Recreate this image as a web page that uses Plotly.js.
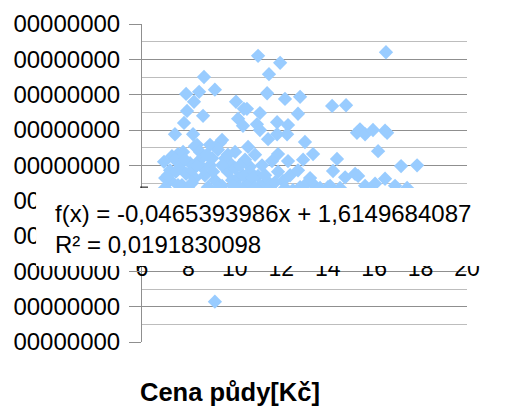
<!DOCTYPE html>
<html>
<head>
<meta charset="utf-8">
<script src="https://cdn.plot.ly/plotly-3.0.1.min.js"></script>
<style>html,body{margin:0;padding:0;background:#fff;}#chart{width:507px;height:409px;}</style>
</head>
<body>
<div id="chart"></div>
<script>
// Cena půdy [Kč] (x) and the y values
const cenaPudy = [
  8.67, 8.46, 9.14, 7.90, 8.24, 7.94, 8.63, 7.81, 7.42, 10.05,
  10.39, 10.14, 10.35, 8.20, 9.45, 8.93, 8.28, 7.55, 7.29, 7.77,
  11.00, 11.95, 11.47, 11.39, 12.16, 12.81, 14.19, 14.79, 11.08, 10.52,
  12.72, 11.82, 12.29, 10.95, 11.08, 11.43, 11.82, 12.25, 15.26, 13.02,
  10.57, 13.37, 12.94, 11.86, 11.60, 12.29, 14.40, 14.23, 10.65, 14.75,
  15.18, 13.11, 11.39, 11.86, 12.07, 11.00, 14.10, 16.51, 15.39, 15.61,
  15.95, 16.47, 16.56, 16.17, 17.16, 17.85, 15.31, 16.47, 16.04, 15.61,
  17.42, 12.50, 14.01, 9.36, 8.37, 9.14,
  7.21, 7.64, 8.07, 8.50, 8.93, 9.58, 10.01, 10.44, 10.87, 11.17,
  7.21, 7.72, 8.28, 8.71, 9.14, 9.70, 10.14, 10.57, 11.08, 11.51,
  6.99, 7.98, 8.84, 9.45, 10.22, 12.16, 12.81, 13.45, 9.79, 9.27,
  8.50, 9.02, 7.90, 10.65, 10.01, 7.42, 12.38, 12.72, 7.00, 6.95,
  7.42, 8.50, 9.58, 10.65, 11.73, 13.67, 14.96, 16.90,
  7.12, 7.46, 8.15, 8.63, 9.06, 9.45, 9.88, 10.35, 10.78, 11.30,
  7.85, 8.37, 8.80, 10.22, 9.70, 7.55, 8.15, 9.27, 9.92, 10.87,
  11.73, 13.24, 13.67, 14.53, 15.82, 16.90
];
const hodnoty = [
  2.75, 2.54, 2.57, 2.51, 2.40, 2.27, 2.20, 2.10, 1.94, 2.40,
  2.30, 2.16, 2.06, 1.94, 1.86, 1.79, 1.77, 1.66, 1.63, 1.69,
  3.05, 2.95, 2.79, 2.52, 2.44, 2.47, 2.34, 2.35, 2.24, 2.30,
  2.23, 2.11, 2.07, 2.08, 2.00, 1.87, 1.94, 1.94, 1.96, 1.83,
  1.76, 1.66, 1.58, 1.66, 1.56, 1.56, 1.59, 1.42, 1.48, 1.33,
  1.38, 1.25, 1.28, 1.41, 1.28, 1.35, 1.21, 3.10, 2.01, 1.94,
  2.00, 1.99, 1.96, 1.70, 1.49, 1.50, 1.35, 1.31, 1.24, 1.21,
  1.18, 1.15, 1.19, 1.82, 1.79, -0.43,
  1.43, 1.46, 1.53, 1.58, 1.50, 1.60, 1.69, 1.58, 1.65, 1.50,
  1.29, 1.22, 1.32, 1.36, 1.29, 1.41, 1.32, 1.25, 1.21, 1.18,
  1.18, 1.18, 1.19, 1.21, 1.18, 1.18, 1.19, 1.21, 1.53, 1.72,
  1.69, 1.60, 1.38, 1.41, 1.46, 1.58, 1.36, 1.43, 1.32, 1.55,
  1.09, 1.08, 1.11, 1.08, 1.09, 1.11, 1.08, 1.11,
  1.36, 1.41, 1.43, 1.46, 1.41, 1.50, 1.29, 1.36, 1.32, 1.36,
  1.58, 1.50, 1.65, 1.50, 1.65, 1.22, 1.25, 1.18, 1.21, 1.18,
  1.26, 1.32, 1.18, 1.18, 1.16, 1.21
];
const xTicks = [6, 8, 10, 12, 14, 16, 18, 20];
const yTicks = [-1, -0.5, 0, 0.5, 1, 1.5, 2, 2.5, 3, 3.5];
const yTickText = yTicks.map(() => "00000000");
const equationLines = ["f(x) = -0,0465393986x + 1,6149684087", "R² = 0,0191830098"];
const xTitle = "Cena půdy[Kč]";

const font = "Liberation Sans, Arial, sans-serif";

const trace = {
  x: cenaPudy,
  y: hodnoty,
  type: "scatter",
  mode: "markers",
  marker: {symbol: "diamond", size: 11, color: "#99ccff", line: {width: 0}},
  hoverinfo: "skip",
  showlegend: false
};

const layout = {
  width: 507,
  height: 409,
  margin: {l: 142, r: 40, t: 24, b: 67, pad: 0},
  paper_bgcolor: "#ffffff",
  plot_bgcolor: "#ffffff",
  font: {family: font, size: 24, color: "#000000"},
  showlegend: false,
  xaxis: {
    range: [6, 20],
    tickvals: xTicks,
    ticktext: xTicks.map(String),
    showgrid: false,
    zeroline: false,
    showline: false,
    ticks: "",
    anchor: "free",
    position: 0.2835,
    tickfont: {family: font, size: 23, color: "#000000"}
  },
  yaxis: {
    range: [-1, 3.5],
    tickvals: yTicks,
    ticktext: yTickText,
    showgrid: true,
    gridcolor: "#8f8f8f",
    gridwidth: 1,
    zeroline: false,
    showline: true,
    linecolor: "#8f8f8f",
    linewidth: 1,
    ticks: "outside",
    ticklen: 12,
    tickcolor: "#8f8f8f",
    ticklabelstandoff: 4,
    tickfont: {family: font, size: 24, color: "#000000"},
    minor: {dtick: 0.25, tick0: 0, showgrid: true, gridcolor: "#bdbdbd", gridwidth: 1, ticks: ""}
  },
  shapes: [
    {type: "rect", xref: "paper", yref: "paper", x0: -0.326, x1: 1.123, y0: 0.239, y1: 0.4843,
     fillcolor: "#ffffff", line: {width: 0}, layer: "above"},
    {type: "line", xref: "paper", yref: "paper", x0: -0.006, x1: 0.0185, y0: 0.487, y1: 0.487,
     line: {color: "#000000", width: 1}, layer: "above"}
  ],
  annotations: [
    {text: equationLines.join("<br>"), xref: "paper", yref: "paper", x: -0.274, y: 0.356,
     xanchor: "left", yanchor: "middle", align: "left", showarrow: false,
     font: {family: font, size: 24, color: "#000000"}},
    {text: "<b>" + xTitle + "</b>", xref: "paper", yref: "paper", x: 0.271, y: -0.157,
     xanchor: "center", yanchor: "middle", showarrow: false,
     font: {family: font, size: 25.5, color: "#000000"}}
  ]
};

Plotly.newPlot("chart", [trace], layout, {staticPlot: true, displayModeBar: false});
</script>
</body>
</html>
